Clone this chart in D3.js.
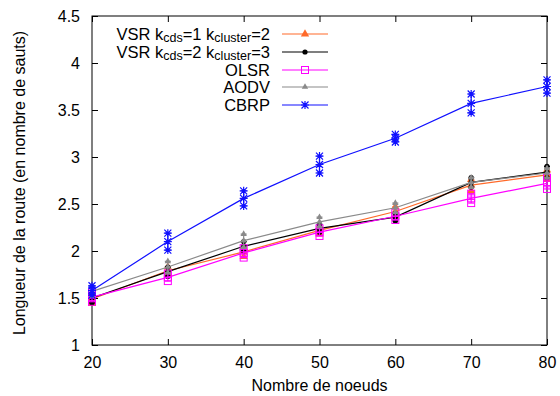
<!DOCTYPE html>
<html><head><meta charset="utf-8">
<script src="https://cdn.jsdelivr.net/npm/d3@7"></script>
<style>body{margin:0;background:#fff}svg{display:block;font-family:"Liberation Sans",Arial,sans-serif}</style>
</head><body><svg id="c" width="560" height="396"></svg>
<script>
const nodes = [20, 30, 40, 50, 60, 70, 80];
const vsr1 = [1.49, 1.79, 1.99, 2.22, 2.42, 2.70, 2.81];
const vsr1Err = [0.05, 0.04, 0.05, 0.04, 0.05, 0.06, 0.05];
const vsr2 = [1.50, 1.78, 2.05, 2.24, 2.36, 2.73, 2.84];
const vsr2Err = [0.05, 0.05, 0.05, 0.04, 0.04, 0.05, 0.06];
const olsr = [1.51, 1.72, 1.98, 2.20, 2.37, 2.56, 2.72];
const olsrErr = [0.05, 0.04, 0.05, 0.04, 0.04, 0.05, 0.06];
const aodv = [1.57, 1.83, 2.11, 2.31, 2.46, 2.73, 2.83];
const aodvErr = [0.05, 0.06, 0.07, 0.05, 0.05, 0.05, 0.05];
const cbrp = [1.58, 2.10, 2.56, 2.92, 3.20, 3.57, 3.75];
const cbrpErr = [0.05, 0.09, 0.08, 0.09, 0.04, 0.1, 0.07];
const yTicks = [1, 1.5, 2, 2.5, 3, 3.5, 4, 4.5];
const seriesNames = ["VSR kcds=1 kcluster=2", "VSR kcds=2 kcluster=3", "OLSR", "AODV", "CBRP"];

const series = [
  {name: seriesNames[0], v: vsr1, e: vsr1Err, color: "#ff6a2a", marker: "tri", leg: [["VSR k",""],["cds","sub"],["=1 k",""],["cluster","sub"],["=2",""]]},
  {name: seriesNames[1], v: vsr2, e: vsr2Err, color: "#000000", marker: "circle", leg: [["VSR k",""],["cds","sub"],["=2 k",""],["cluster","sub"],["=3",""]]},
  {name: seriesNames[2], v: olsr, e: olsrErr, color: "#ff00ff", marker: "square", leg: [["OLSR",""]]},
  {name: seriesNames[3], v: aodv, e: aodvErr, color: "#8a8a8a", marker: "smalltri", leg: [["AODV",""]]},
  {name: seriesNames[4], v: cbrp, e: cbrpErr, color: "#1010ff", marker: "star", leg: [["CBRP",""]]}
];

const svg = d3.select("#c");
const L = 92, R = 547, T = 16, B = 345;
const x = d3.scaleLinear().domain([20, 80]).range([L, R]);
const y = d3.scaleLinear().domain([1, 4.5]).range([B, T]);

const fs = "16px";
const gx = svg.append("g").attr("transform", `translate(0,${B})`)
  .call(d3.axisBottom(x).tickValues(nodes).tickSizeInner(-6).tickSizeOuter(0).tickPadding(12));
const gxt = svg.append("g").attr("transform", `translate(0,${T})`)
  .call(d3.axisTop(x).tickValues(nodes).tickSizeInner(-6).tickSizeOuter(0).tickFormat(""));
const gy = svg.append("g").attr("transform", `translate(${L},0)`)
  .call(d3.axisLeft(y).tickValues(yTicks).tickSizeInner(-6).tickSizeOuter(0).tickPadding(12).tickFormat(d3.format("")));
const gyr = svg.append("g").attr("transform", `translate(${R},0)`)
  .call(d3.axisRight(y).tickValues(yTicks).tickSizeInner(-6).tickSizeOuter(0).tickFormat(""));
[gx, gxt, gy, gyr].forEach(g => {
  g.select(".domain").remove();
  g.selectAll("line").attr("stroke", "#000");
  g.selectAll("text").attr("font-size", fs).attr("font-family", "Liberation Sans, Arial, sans-serif").attr("fill", "#000");
});
svg.append("rect").attr("x", L).attr("y", T).attr("width", R - L).attr("height", B - T)
  .attr("fill", "none").attr("stroke", "#000").attr("stroke-width", 1);

svg.append("text").attr("x", (L + R) / 2).attr("y", 391).attr("text-anchor", "middle")
  .attr("font-size", fs).text("Nombre de noeuds");
svg.append("text").attr("transform", `translate(25,${183}) rotate(-90)`).attr("text-anchor", "middle")
  .attr("font-size", fs).text("Longueur de la route (en nombre de sauts)");

function marker(g, type, cx, cy, color) {
  if (type === "tri") {
    g.append("path").attr("d", d3.symbol(d3.symbolTriangle, 30)()).attr("transform", `translate(${cx},${cy})`)
      .attr("fill", color);
  } else if (type === "smalltri") {
    g.append("path").attr("d", d3.symbol(d3.symbolTriangle, 18)()).attr("transform", `translate(${cx},${cy})`)
      .attr("fill", color);
  } else if (type === "circle") {
    g.append("circle").attr("cx", cx).attr("cy", cy).attr("r", 2.6).attr("fill", color);
  } else if (type === "square") {
    g.append("rect").attr("x", cx - 3.5).attr("y", cy - 3.5).attr("width", 7).attr("height", 7)
      .attr("fill", "none").attr("stroke", color).attr("stroke-width", 1);
  } else if (type === "star") {
    g.append("path").attr("d", `M${cx-3.5},${cy-3.5}L${cx+3.5},${cy+3.5}M${cx-3.5},${cy+3.5}L${cx+3.5},${cy-3.5}M${cx-4},${cy}L${cx+4},${cy}M${cx},${cy-4}L${cx},${cy+4}`)
      .attr("stroke", color).attr("stroke-width", 1.2).attr("fill", "none");
  }
}

const line = d3.line().x((d, i) => x(nodes[i])).y(d => y(d));
series.forEach(s => {
  const g = svg.append("g");
  g.append("path").datum(s.v).attr("d", line).attr("fill", "none").attr("stroke", s.color).attr("stroke-width", 1.2);
  s.v.forEach((v, i) => {
    const cx = x(nodes[i]);
    const y0 = y(v - s.e[i]), y1 = y(v + s.e[i]);
    g.append("line").attr("x1", cx).attr("x2", cx).attr("y1", y0).attr("y2", y1).attr("stroke", s.color).attr("stroke-width", 1.2);
    [y0, y1].forEach(yy => g.append("line").attr("x1", cx - 3).attr("x2", cx + 3).attr("y1", yy).attr("y2", yy).attr("stroke", s.color).attr("stroke-width", 1.2));
    marker(g, s.marker, cx, y0, s.color);
    marker(g, s.marker, cx, y1, s.color);
    marker(g, s.marker, cx, y(v), s.color);
  });
});

// legend
const legY = [34, 52, 70, 87, 105];
series.forEach((s, k) => {
  const t = svg.append("text").attr("x", 270).attr("y", legY[k] + 6).attr("text-anchor", "end").attr("font-size", "16.5px");
  let prevSub = false;
  s.leg.forEach(([str, kind]) => {
    const ts = t.append("tspan").text(str);
    if (kind === "sub") { ts.attr("font-size", "12.5px").attr("dy", 2); prevSub = true; }
    else if (prevSub) { ts.attr("dy", -2); prevSub = false; }
  });
  svg.append("line").attr("x1", 282).attr("x2", 328).attr("y1", legY[k]).attr("y2", legY[k]).attr("stroke", s.color).attr("stroke-width", 1.2);
  marker(svg, s.marker, 305, legY[k], s.color);
});
</script></body></html>
